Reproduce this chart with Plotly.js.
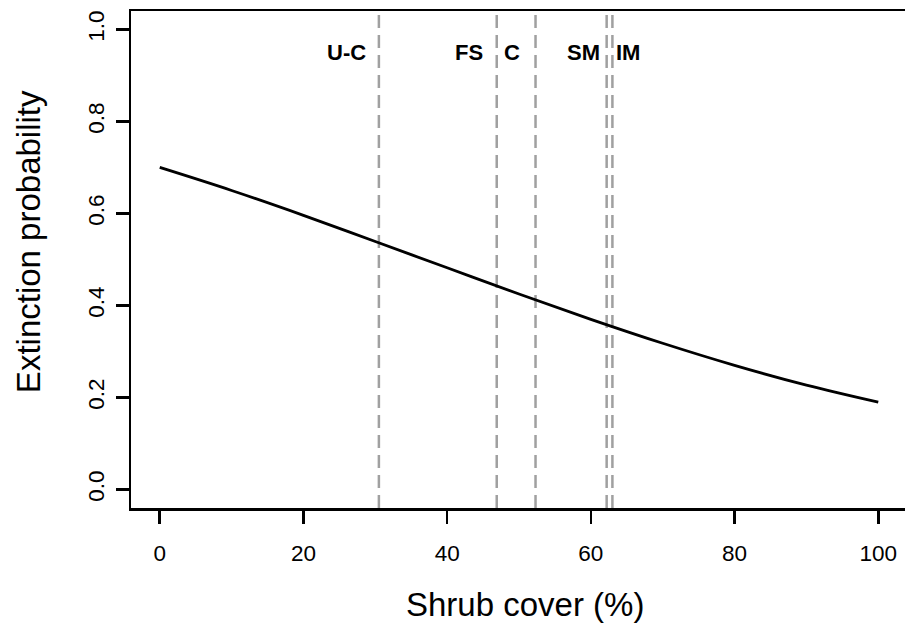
<!DOCTYPE html>
<html>
<head>
<meta charset="utf-8">
<script src="https://cdn.plot.ly/plotly-3.0.1.min.js"></script>
<style>
html,body{margin:0;padding:0;overflow:hidden;background:#fff;}
#chart{width:912px;height:633px;}
</style>
</head>
<body>
<div id="chart"></div>
<script>
// Fitted curve
const shrubCover = [0, 10, 20, 30, 40, 50, 60, 70, 80, 90, 100];
const extinctionProb = [0.700, 0.650, 0.596, 0.539, 0.482, 0.425, 0.370, 0.318, 0.270, 0.227, 0.190];

// Vertical reference lines (habitat thresholds)
const refNames = ["U-C", "FS", "C", "SM", "IM"];
const refLines = [30.5, 46.9, 52.3, 62.2, 63.0];
const labelX = [26.0, 43.0, 49.0, 59.0, 65.1];
const labelY = 0.95;

const xTicks = [0, 20, 40, 60, 80, 100];
const yTicks = [0.0, 0.2, 0.4, 0.6, 0.8, 1.0];
const yTickText = ["0.0", "0.2", "0.4", "0.6", "0.8", "1.0"];

const xTitle = "Shrub cover (%)";
const yTitle = "Extinction probability";

const FONT = "Liberation Sans, Arial, Helvetica, sans-serif";

const traces = [];
refLines.forEach((v) => {
  traces.push({
    x: [v, v], y: [-0.04, 1.04],
    type: "scatter", mode: "lines",
    line: {color: "#a0a0a0", width: 2.5, dash: "13px,7px"},
    hoverinfo: "skip", showlegend: false
  });
});
traces.push({
  x: shrubCover, y: extinctionProb,
  type: "scatter", mode: "lines",
  line: {color: "#000", width: 2.8, shape: "spline"},
  showlegend: false
});

const annotations = refNames.map((t, i) => ({
  x: labelX[i], y: labelY, xref: "x", yref: "y",
  text: "<b>" + t + "</b>", showarrow: false,
  font: {family: FONT, size: 22, color: "#000"}
}));
annotations.push({
  text: xTitle, xref: "paper", yref: "paper", x: 0.508, y: -0.195,
  xanchor: "center", yanchor: "middle", showarrow: false,
  font: {family: FONT, size: 33, color: "#000"}
});
annotations.push({
  text: yTitle, xref: "paper", yref: "paper", x: -0.1327, y: 0.535,
  xanchor: "center", yanchor: "middle", showarrow: false, textangle: -90,
  font: {family: FONT, size: 33, color: "#000"}
});

const layout = {
  width: 912, height: 633,
  margin: {l: 131, r: 5, t: 11, b: 125},
  paper_bgcolor: "#fff", plot_bgcolor: "#fff",
  font: {family: FONT, color: "#000"},
  xaxis: {
    range: [-4, 104], tickvals: xTicks, ticktext: xTicks.map(String),
    showgrid: false, zeroline: false,
    showline: true, linecolor: "#000", linewidth: 2.5, mirror: true,
    ticks: "outside", ticklen: 13, tickwidth: 2.5, tickcolor: "#000",
    ticklabelstandoff: 10,
    tickfont: {family: FONT, size: 22.5, color: "#000"}
  },
  yaxis: {
    range: [-0.04, 1.04], tickvals: yTicks, ticktext: yTickText,
    showgrid: false, zeroline: false,
    showline: true, linecolor: "#000", linewidth: 2.5, mirror: true,
    ticks: "outside", ticklen: 13, tickwidth: 2.5, tickcolor: "#000",
    tickangle: -90,
    ticklabelstandoff: 3,
    tickfont: {family: FONT, size: 22.5, color: "#000"}
  },
  annotations: annotations
};

Plotly.newPlot("chart", traces, layout, {displayModeBar: false, staticPlot: true});
</script>
</body>
</html>
